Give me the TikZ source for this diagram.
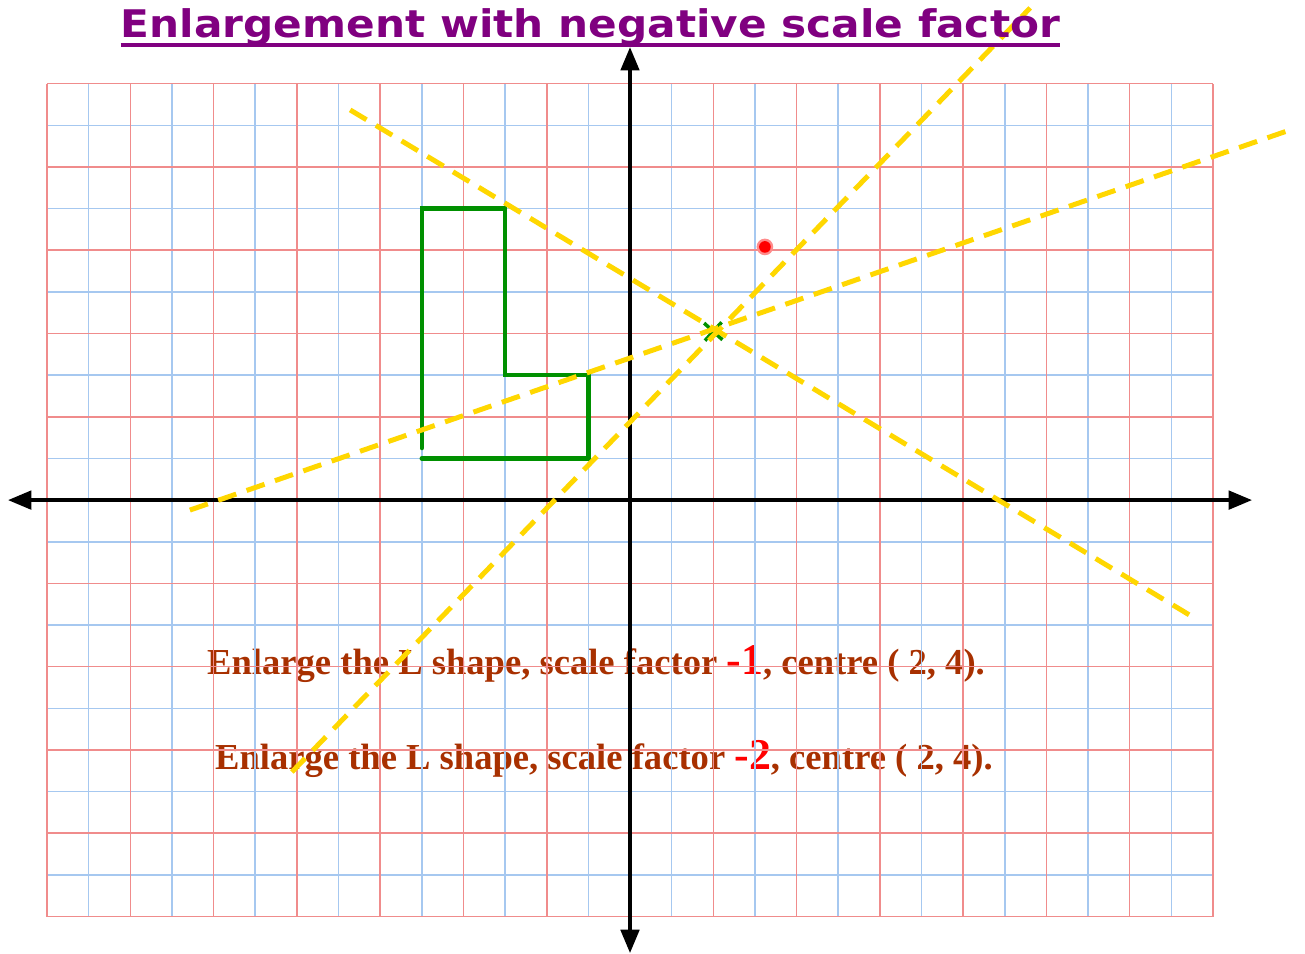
\documentclass[tikz,border=0pt]{standalone}
\usepackage{fontspec}
\setmainfont{Liberation Serif}
\newfontfamily\titlefont{DejaVu Sans}[FakeStretch=1.11]
\usetikzlibrary{arrows.meta,calc}
\definecolor{gridred}{HTML}{F08C8C}
\definecolor{gridblue}{HTML}{A6C8F0}
\definecolor{titlepurple}{HTML}{800080}
\definecolor{textbrown}{HTML}{A83000}
\definecolor{lgreen}{HTML}{009000}
\definecolor{yel}{HTML}{FFD700}
\tikzset{
  redline/.style={draw=gridred, line width=1.05pt},
  blueline/.style={draw=gridblue, line width=1.05pt},
  axis/.style={draw=black, line width=2.7pt, {Triangle[length=16pt,width=12.5pt]}-{Triangle[length=16pt,width=12.5pt]}},
  lshape/.style={draw=lgreen, line width=3.1pt, line cap=round},
  yline/.style={draw=yel, line width=3.4pt, dash pattern=on 13pt off 7.5pt},
  titletext/.style={font=\titlefont\bfseries\fontsize{26}{30}\selectfont, text=titlepurple, inner sep=0pt},
  bodytext/.style={font=\bfseries\fontsize{25}{29}\selectfont, text=textbrown, inner sep=0pt, anchor=base west}
}
\begin{document}
\begin{tikzpicture}
\useasboundingbox (-15.13,-10.90) rectangle (16.21,12.01);
% texts
\node[bodytext] (t1) at (-10.16,-4.20) {Enlarge the L shape, scale factor \textcolor{red}{\fontsize{30}{32}\selectfont -1}, centre ( 2, 4).};
\node[bodytext] (t2) at (-9.97,-6.46) {Enlarge the L shape, scale factor \textcolor{red}{\fontsize{30}{32}\selectfont -2}, centre ( 2, 4).};
% grid
\foreach \i in {-13,-11,...,13} {\draw[blueline] (\i,-10) -- (\i,10);}
\foreach \i in {-9,-7,...,9} {\draw[blueline] (-14,\i) -- (14,\i);}
\foreach \i in {-14,-12,...,14} {\draw[redline] (\i,-10) -- (\i,10);}
\foreach \i in {-10,-8,...,10} {\draw[redline] (-14,\i) -- (14,\i);}
% axes
\coordinate (xl) at (-14.94,0);
\coordinate (xr) at (14.94,0);
\coordinate (yb) at (0,-10.88);
\coordinate (yt) at (0,10.88);
\draw[axis] (xl) -- (xr);
\draw[axis] (yb) -- (yt);
% L shape
\coordinate (a) at (-5,7);
\coordinate (b) at (-3,7);
\coordinate (c) at (-3,3);
\coordinate (d) at (-1,3);
\coordinate (e) at (-1,1);
\coordinate (f) at (-5,1);
\coordinate (f2) at (-5,1.25);
\draw[lshape] (f2) -- (a) -- (b) -- (c) -- (d) -- (e) -- (f);
% centre cross
\coordinate (cc) at (2,4.05);
\draw[draw=lgreen, line width=2.4pt] ($(cc)+(-0.22,0.2)$) -- ($(cc)+(0.22,-0.2)$);
\draw[draw=lgreen, line width=2.4pt] ($(cc)+(-0.2,-0.22)$) -- ($(cc)+(0.2,0.22)$);
% yellow lines
\coordinate (p1) at (-6.72,9.37);
\coordinate (q1) at (13.52,-2.81);
\coordinate (p2) at (-10.57,-0.24);
\coordinate (q2) at (15.97,8.93);
\coordinate (p3) at (-8.12,-6.53);
\coordinate (q3) at (9.61,11.82);
\draw[yline] (p1) -- (q1);
\draw[yline] (p2) -- (q2);
\draw[yline] (p3) -- (q3);
% red dot
\coordinate (rd) at (3.24,6.08);
\fill[red!45] (rd) circle (0.2);
\fill[red] (rd) circle (0.14);
% title
\node[titletext, anchor=base] (title) at (-0.95,11.10) {Enlargement with negative scale factor};
\draw[draw=titlepurple, line width=2.2pt] ($(title.base west)+(0,-0.17)$) -- ($(title.base east)+(0,-0.17)$);
\end{tikzpicture}
\end{document}
